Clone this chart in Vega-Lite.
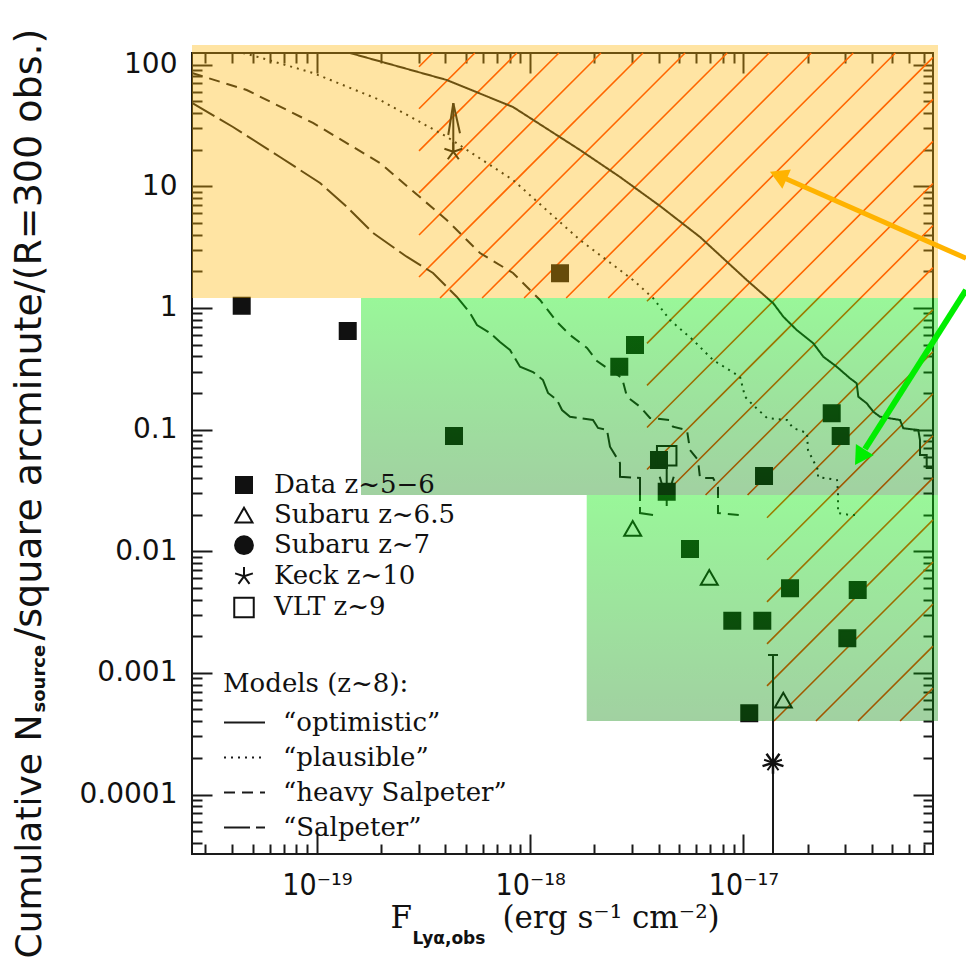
{
"$schema": "https://vega.github.io/schema/vega-lite/v6.json",
"width": 741,
"height": 801,
"autosize": {"type": "none"},
"padding": {"left": 192, "top": 53, "right": 33, "bottom": 111},
"background": "white",
"config": {
  "view": {"stroke": "#1a1a1a", "strokeWidth": 2},
  "axis": {"domain": false, "grid": false, "tickColor": "#1a1a1a", "tickWidth": 2, "labelColor": "#111111", "titleColor": "#111111", "titleFontWeight": "normal", "labelFlush": false, "labelOverlap": false, "labelBound": false}
},
"datasets": {
  "hatch": [
    {"x": 3.010e-19, "y": 96.0, "x2": 3.491e-19, "y2": 124.5},
    {"x": 3.010e-19, "y": 43.32, "x2": 5.498e-19, "y2": 124.5},
    {"x": 3.010e-19, "y": 19.54, "x2": 8.659e-19, "y2": 124.5},
    {"x": 3.010e-19, "y": 8.816, "x2": 1.363e-18, "y2": 124.5},
    {"x": 3.010e-19, "y": 3.977, "x2": 2.147e-18, "y2": 124.5},
    {"x": 3.010e-19, "y": 1.7946, "x2": 3.381e-18, "y2": 124.5},
    {"x": 3.778e-19, "y": 1.2061, "x2": 5.324e-18, "y2": 124.5},
    {"x": 5.950e-19, "y": 1.2061, "x2": 8.384e-18, "y2": 124.5},
    {"x": 9.368e-19, "y": 1.2061, "x2": 1.320e-17, "y2": 124.5},
    {"x": 1.475e-18, "y": 1.2061, "x2": 2.079e-17, "y2": 124.5},
    {"x": 2.323e-18, "y": 1.2061, "x2": 3.273e-17, "y2": 124.5},
    {"x": 3.529e-18, "y": 1.1331, "x2": 5.155e-17, "y2": 124.5},
    {"x": 3.529e-18, "y": 0.5111, "x2": 7.745e-17, "y2": 114.7},
    {"x": 3.529e-18, "y": 0.2306, "x2": 7.745e-17, "y2": 51.74},
    {"x": 3.529e-18, "y": 0.10404, "x2": 7.745e-17, "y2": 23.35},
    {"x": 3.529e-18, "y": 0.04693, "x2": 7.745e-17, "y2": 10.53},
    {"x": 4.221e-18, "y": 0.028966, "x2": 7.745e-17, "y2": 4.753},
    {"x": 6.645e-18, "y": 0.028966, "x2": 7.745e-17, "y2": 2.1445},
    {"x": 1.046e-17, "y": 0.028966, "x2": 7.745e-17, "y2": 0.9673},
    {"x": 1.290e-17, "y": 0.018851, "x2": 7.745e-17, "y2": 0.4364},
    {"x": 1.290e-17, "y": 0.008505, "x2": 7.745e-17, "y2": 0.19693},
    {"x": 1.290e-17, "y": 0.003837, "x2": 7.745e-17, "y2": 0.08884},
    {"x": 1.290e-17, "y": 0.0017313, "x2": 7.745e-17, "y2": 0.04007},
    {"x": 1.290e-17, "y": 7.811e-4, "x2": 7.745e-17, "y2": 0.018083},
    {"x": 1.390e-17, "y": 4.018e-4, "x2": 7.745e-17, "y2": 0.008155},
    {"x": 2.189e-17, "y": 4.018e-4, "x2": 7.745e-17, "y2": 0.003680},
    {"x": 3.447e-17, "y": 4.018e-4, "x2": 7.745e-17, "y2": 0.0016608},
    {"x": 5.429e-17, "y": 4.018e-4, "x2": 7.745e-17, "y2": 7.493e-4}
  ],
  "models": [
    {"model": "“optimistic”", "i": 1, "x": 1.429e-19, "y": 124.5},
    {"model": "“optimistic”", "i": 2, "x": 4.059e-19, "y": 74.7},
    {"model": "“optimistic”", "i": 3, "x": 8.306e-19, "y": 44.81},
    {"model": "“optimistic”", "i": 4, "x": 1.712e-18, "y": 19.86},
    {"model": "“optimistic”", "i": 5, "x": 2.637e-18, "y": 11.91},
    {"model": "“optimistic”", "i": 6, "x": 4.062e-18, "y": 6.881},
    {"model": "“optimistic”", "i": 7, "x": 6.256e-18, "y": 3.826},
    {"model": "“optimistic”", "i": 8, "x": 1.036e-17, "y": 1.696},
    {"model": "“optimistic”", "i": 9, "x": 1.380e-17, "y": 1.0908},
    {"model": "“optimistic”", "i": 10, "x": 1.538e-17, "y": 0.8465},
    {"model": "“optimistic”", "i": 11, "x": 1.778e-17, "y": 0.6578},
    {"model": "“optimistic”", "i": 12, "x": 2.126e-17, "y": 0.5116},
    {"model": "“optimistic”", "i": 13, "x": 2.369e-17, "y": 0.3971},
    {"model": "“optimistic”", "i": 14, "x": 2.737e-17, "y": 0.3285},
    {"model": "“optimistic”", "i": 15, "x": 3.161e-17, "y": 0.2637},
    {"model": "“optimistic”", "i": 16, "x": 3.398e-17, "y": 0.2400},
    {"model": "“optimistic”", "i": 17, "x": 3.457e-17, "y": 0.1862},
    {"model": "“optimistic”", "i": 18, "x": 3.786e-17, "y": 0.1643},
    {"model": "“optimistic”", "i": 19, "x": 4.064e-17, "y": 0.1402},
    {"model": "“optimistic”", "i": 20, "x": 4.369e-17, "y": 0.1275},
    {"model": "“optimistic”", "i": 21, "x": 5.423e-17, "y": 0.1198},
    {"model": "“optimistic”", "i": 22, "x": 5.620e-17, "y": 0.1024},
    {"model": "“optimistic”", "i": 23, "x": 6.607e-17, "y": 0.09914},
    {"model": "“optimistic”", "i": 24, "x": 6.730e-17, "y": 0.08204},
    {"model": "“optimistic”", "i": 25, "x": 6.730e-17, "y": 0.06176},
    {"model": "“optimistic”", "i": 26, "x": 7.235e-17, "y": 0.06176},
    {"model": "“optimistic”", "i": 27, "x": 7.235e-17, "y": 0.04828},
    {"model": "“optimistic”", "i": 28, "x": 7.745e-17, "y": 0.04828},
    {"model": "“plausible”", "i": 1, "x": 4.499e-20, "y": 124.5},
    {"model": "“plausible”", "i": 2, "x": 5.234e-20, "y": 116.1},
    {"model": "“plausible”", "i": 3, "x": 9.581e-20, "y": 85.27},
    {"model": "“plausible”", "i": 4, "x": 1.975e-19, "y": 51.15},
    {"model": "“plausible”", "i": 5, "x": 4.059e-19, "y": 25.54},
    {"model": "“plausible”", "i": 6, "x": 8.306e-19, "y": 11.25},
    {"model": "“plausible”", "i": 7, "x": 1.712e-18, "y": 3.614},
    {"model": "“plausible”", "i": 8, "x": 3.035e-18, "y": 1.696},
    {"model": "“plausible”", "i": 9, "x": 3.767e-18, "y": 1.206},
    {"model": "“plausible”", "i": 10, "x": 4.524e-18, "y": 0.7951},
    {"model": "“plausible”", "i": 11, "x": 5.800e-18, "y": 0.5447},
    {"model": "“plausible”", "i": 12, "x": 7.200e-18, "y": 0.3729},
    {"model": "“plausible”", "i": 13, "x": 9.636e-18, "y": 0.2718},
    {"model": "“plausible”", "i": 14, "x": 1.017e-17, "y": 0.1862},
    {"model": "“plausible”", "i": 15, "x": 1.109e-17, "y": 0.1591},
    {"model": "“plausible”", "i": 16, "x": 1.290e-17, "y": 0.1244},
    {"model": "“plausible”", "i": 17, "x": 1.601e-17, "y": 0.1198},
    {"model": "“plausible”", "i": 18, "x": 1.708e-17, "y": 0.1030},
    {"model": "“plausible”", "i": 19, "x": 1.987e-17, "y": 0.09367},
    {"model": "“plausible”", "i": 20, "x": 2.008e-17, "y": 0.0679},
    {"model": "“plausible”", "i": 21, "x": 2.119e-17, "y": 0.05618},
    {"model": "“plausible”", "i": 22, "x": 2.237e-17, "y": 0.0465},
    {"model": "“plausible”", "i": 23, "x": 2.237e-17, "y": 0.04073},
    {"model": "“plausible”", "i": 24, "x": 2.747e-17, "y": 0.03848},
    {"model": "“plausible”", "i": 25, "x": 2.777e-17, "y": 0.03009},
    {"model": "“plausible”", "i": 26, "x": 2.777e-17, "y": 0.0206},
    {"model": "“plausible”", "i": 27, "x": 3.161e-17, "y": 0.01984},
    {"model": "“plausible”", "i": 28, "x": 3.408e-17, "y": 0.01984},
    {"model": "“heavy Salpeter”", "i": 1, "x": 2.594e-20, "y": 85.27},
    {"model": "“heavy Salpeter”", "i": 2, "x": 4.683e-20, "y": 61.82},
    {"model": "“heavy Salpeter”", "i": 3, "x": 9.581e-20, "y": 33.11},
    {"model": "“heavy Salpeter”", "i": 4, "x": 1.975e-19, "y": 15.53},
    {"model": "“heavy Salpeter”", "i": 5, "x": 4.059e-19, "y": 5.278},
    {"model": "“heavy Salpeter”", "i": 6, "x": 5.815e-19, "y": 2.827},
    {"model": "“heavy Salpeter”", "i": 7, "x": 8.306e-19, "y": 1.936},
    {"model": "“heavy Salpeter”", "i": 8, "x": 1.112e-18, "y": 1.1611},
    {"model": "“heavy Salpeter”", "i": 9, "x": 1.336e-18, "y": 0.7656},
    {"model": "“heavy Salpeter”", "i": 10, "x": 1.537e-18, "y": 0.5987},
    {"model": "“heavy Salpeter”", "i": 11, "x": 1.847e-18, "y": 0.468},
    {"model": "“heavy Salpeter”", "i": 12, "x": 2.057e-18, "y": 0.366},
    {"model": "“heavy Salpeter”", "i": 13, "x": 2.367e-18, "y": 0.3087},
    {"model": "“heavy Salpeter”", "i": 14, "x": 2.695e-18, "y": 0.2652},
    {"model": "“heavy Salpeter”", "i": 15, "x": 2.844e-18, "y": 0.1862},
    {"model": "“heavy Salpeter”", "i": 16, "x": 3.273e-18, "y": 0.154},
    {"model": "“heavy Salpeter”", "i": 17, "x": 3.646e-18, "y": 0.1244},
    {"model": "“heavy Salpeter”", "i": 18, "x": 4.524e-18, "y": 0.1198},
    {"model": "“heavy Salpeter”", "i": 19, "x": 4.673e-18, "y": 0.1055},
    {"model": "“heavy Salpeter”", "i": 20, "x": 5.436e-18, "y": 0.09914},
    {"model": "“heavy Salpeter”", "i": 21, "x": 5.616e-18, "y": 0.0679},
    {"model": "“heavy Salpeter”", "i": 22, "x": 6.123e-18, "y": 0.05618},
    {"model": "“heavy Salpeter”", "i": 23, "x": 6.256e-18, "y": 0.03996},
    {"model": "“heavy Salpeter”", "i": 24, "x": 7.200e-18, "y": 0.03996},
    {"model": "“heavy Salpeter”", "i": 25, "x": 7.598e-18, "y": 0.0337},
    {"model": "“heavy Salpeter”", "i": 26, "x": 7.598e-18, "y": 0.0206},
    {"model": "“heavy Salpeter”", "i": 27, "x": 9.636e-18, "y": 0.01984},
    {"model": "“Salpeter”", "i": 1, "x": 2.594e-20, "y": 48.34},
    {"model": "“Salpeter”", "i": 2, "x": 4.039e-20, "y": 30.69},
    {"model": "“Salpeter”", "i": 3, "x": 6.708e-20, "y": 17.39},
    {"model": "“Salpeter”", "i": 4, "x": 1.034e-19, "y": 10.63},
    {"model": "“Salpeter”", "i": 5, "x": 1.379e-19, "y": 6.79},
    {"model": "“Salpeter”", "i": 6, "x": 1.832e-19, "y": 4.127},
    {"model": "“Salpeter”", "i": 7, "x": 2.636e-19, "y": 2.635},
    {"model": "“Salpeter”", "i": 8, "x": 3.501e-19, "y": 1.936},
    {"model": "“Salpeter”", "i": 9, "x": 4.522e-19, "y": 1.236},
    {"model": "“Salpeter”", "i": 10, "x": 5.221e-19, "y": 0.9079},
    {"model": "“Salpeter”", "i": 11, "x": 5.630e-19, "y": 0.7233},
    {"model": "“Salpeter”", "i": 12, "x": 6.478e-19, "y": 0.6217},
    {"model": "“Salpeter”", "i": 13, "x": 7.218e-19, "y": 0.5243},
    {"model": "“Salpeter”", "i": 14, "x": 8.041e-19, "y": 0.4506},
    {"model": "“Salpeter”", "i": 15, "x": 8.959e-19, "y": 0.3285},
    {"model": "“Salpeter”", "i": 16, "x": 1.031e-18, "y": 0.2972},
    {"model": "“Salpeter”", "i": 17, "x": 1.148e-18, "y": 0.2553},
    {"model": "“Salpeter”", "i": 18, "x": 1.212e-18, "y": 0.1998},
    {"model": "“Salpeter”", "i": 19, "x": 1.336e-18, "y": 0.1749},
    {"model": "“Salpeter”", "i": 20, "x": 1.410e-18, "y": 0.1447},
    {"model": "“Salpeter”", "i": 21, "x": 1.537e-18, "y": 0.1275},
    {"model": "“Salpeter”", "i": 22, "x": 1.970e-18, "y": 0.1198},
    {"model": "“Salpeter”", "i": 23, "x": 2.080e-18, "y": 0.103},
    {"model": "“Salpeter”", "i": 24, "x": 2.292e-18, "y": 0.09914},
    {"model": "“Salpeter”", "i": 25, "x": 2.367e-18, "y": 0.07226},
    {"model": "“Salpeter”", "i": 26, "x": 2.637e-18, "y": 0.05308},
    {"model": "“Salpeter”", "i": 27, "x": 2.637e-18, "y": 0.04095},
    {"model": "“Salpeter”", "i": 28, "x": 3.273e-18, "y": 0.03996},
    {"model": "“Salpeter”", "i": 29, "x": 3.273e-18, "y": 0.0206},
    {"model": "“Salpeter”", "i": 30, "x": 3.767e-18, "y": 0.01984}
  ],
  "limits": [
    {"x": 4.359e-19, "y": 19.23, "x2": 4.359e-19, "y2": 48.07},
    {"x": 4.129e-19, "y": 26.38, "x2": 4.359e-19, "y2": 48.07},
    {"x": 4.686e-19, "y": 27.24, "x2": 4.359e-19, "y2": 48.07},
    {"x": 4.367e-18, "y": 0.06095, "x2": 4.367e-18, "y2": 0.02352},
    {"x": 4.049e-18, "y": 0.04095, "x2": 4.367e-18, "y2": 0.02635},
    {"x": 4.710e-18, "y": 0.04095, "x2": 4.367e-18, "y2": 0.02635},
    {"x": 1.376e-17, "y": 0.001402, "x2": 1.376e-17, "y2": 3.244e-5},
    {"x": 1.3036e-17, "y": 0.001402, "x2": 1.4528e-17, "y2": 0.001402}
  ],
  "points": [
    {"cat": "Data z~5−6", "x": 4.437e-20, "y": 1.042},
    {"cat": "Data z~5−6", "x": 1.394e-19, "y": 0.6455},
    {"cat": "Data z~5−6", "x": 1.380e-18, "y": 1.925},
    {"cat": "Data z~5−6", "x": 4.392e-19, "y": 0.0885},
    {"cat": "Data z~5−6", "x": 3.101e-18, "y": 0.4954},
    {"cat": "Data z~5−6", "x": 2.617e-18, "y": 0.3285},
    {"cat": "Data z~5−6", "x": 4.018e-18, "y": 0.05618},
    {"cat": "Data z~5−6", "x": 4.367e-18, "y": 0.03083},
    {"cat": "Data z~5−6", "x": 1.249e-17, "y": 0.0415},
    {"cat": "Data z~5−6", "x": 2.594e-17, "y": 0.136},
    {"cat": "Data z~5−6", "x": 2.858e-17, "y": 0.0885},
    {"cat": "Data z~5−6", "x": 5.616e-18, "y": 0.01042},
    {"cat": "Data z~5−6", "x": 1.654e-17, "y": 0.004953},
    {"cat": "Data z~5−6", "x": 3.435e-17, "y": 0.004797},
    {"cat": "Data z~5−6", "x": 8.867e-18, "y": 0.002683},
    {"cat": "Data z~5−6", "x": 1.226e-17, "y": 0.002683},
    {"cat": "Data z~5−6", "x": 3.071e-17, "y": 0.001923},
    {"cat": "Data z~5−6", "x": 1.065e-17, "y": 4.649e-4},
    {"cat": "Subaru z~6.5", "x": 3.025e-18, "y": 0.01542},
    {"cat": "Subaru z~6.5", "x": 6.915e-18, "y": 0.006101},
    {"cat": "Subaru z~6.5", "x": 1.538e-17, "y": 5.978e-4},
    {"cat": "Keck z~10", "x": 4.359e-19, "y": 19.23},
    {"cat": "Keck z~10", "x": 1.376e-17, "y": 1.826e-4},
    {"cat": "VLT z~9", "x": 4.367e-18, "y": 0.06095}
  ],
  "zoneA": [
    {"x": 2.594e-20, "x2": 8.175e-17, "y": 1.2061, "y2": 144.9}
  ],
  "zoneB": [
    {"x": 1.609e-19, "x2": 8.175e-17, "y": 0.028966, "y2": 1.2061},
    {"x": 1.841e-18, "x2": 8.175e-17, "y": 4.018e-4, "y2": 0.028966}
  ],
  "arrowA": [{"x": 1.106e-16, "y": 2.557, "x2": 1.583e-17, "y2": 11.535}],
  "headA": [{"x": 1.457e-17, "y": 12.28}],
  "arrowB": [{"x": 1.106e-16, "y": 1.4031, "x2": 3.717e-17, "y2": 0.0692}],
  "headB": [{"x": 3.517e-17, "y": 0.05913}]
},
"layer": [
  {
    "data": {"name": "hatch"},
    "mark": {"type": "rule", "color": "#FF3A00", "strokeWidth": 1.6},
    "encoding": {
      "x": {"field": "x", "type": "quantitative", "scale": {"type": "log", "domain": [2.594e-20, 7.745e-17], "nice": false},
        "axis": {"orient": "bottom", "values": [1e-19, 1e-18, 1e-17], "tickSize": -20,
          "labelExpr": "datum.value < 5e-19 ? '10⁻¹⁹' : (datum.value < 5e-18 ? '10⁻¹⁸' : '10⁻¹⁷')",
          "labelFont": "DejaVu Sans Condensed, Liberation Sans Narrow, DejaVu Sans", "labelFontSize": 30, "labelPadding": 36,
          "title": "F", "titleFont": "DejaVu Serif", "titleFontSize": 31, "titleX": 198, "titleY": 73, "titleAlign": "left", "titleBaseline": "alphabetic", "titleAngle": 0}},
      "y": {"field": "y", "type": "quantitative", "scale": {"type": "log", "domain": [3.244e-5, 124.5], "nice": false},
        "axis": {"orient": "left", "values": [0.0001, 0.001, 0.01, 0.1, 1, 10, 100], "tickSize": -20,
          "labelExpr": "format(datum.value, '~g')", "labelFont": "DejaVu Sans", "labelFontSize": 28, "labelPadding": 35,
          "title": "Cumulative N", "titleFont": "DejaVu Sans", "titleFontSize": 36, "titleAngle": 270, "titleX": -152, "titleY": 905, "titleAlign": "left", "titleBaseline": "alphabetic"}},
      "x2": {"field": "x2"},
      "y2": {"field": "y2"}
    }
  },
  {
    "data": {"name": "models"},
    "mark": {"type": "line", "color": "#1a1a1a", "strokeWidth": 2},
    "encoding": {
      "x": {"field": "x", "type": "quantitative", "scale": {"type": "log", "domain": [2.594e-20, 7.745e-17], "nice": false},
        "axis": {"orient": "bottom", "values": [3e-20, 4e-20, 5e-20, 6e-20, 7e-20, 8e-20, 9e-20, 2e-19, 3e-19, 4e-19, 5e-19, 6e-19, 7e-19, 8e-19, 9e-19, 2e-18, 3e-18, 4e-18, 5e-18, 6e-18, 7e-18, 8e-18, 9e-18, 2e-17, 3e-17, 4e-17, 5e-17, 6e-17, 7e-17],
          "tickSize": -10, "labels": false,
          "title": "(erg s⁻¹ cm⁻²)", "titleFont": "DejaVu Serif", "titleFontSize": 31, "titleX": 310, "titleY": 73, "titleAlign": "left", "titleBaseline": "alphabetic", "titleAngle": 0}},
      "y": {"field": "y", "type": "quantitative", "scale": {"type": "log", "domain": [3.244e-5, 124.5], "nice": false},
        "axis": {"orient": "left", "values": [4e-5, 5e-5, 6e-5, 7e-5, 8e-5, 9e-5, 2e-4, 3e-4, 4e-4, 5e-4, 6e-4, 7e-4, 8e-4, 9e-4, 0.002, 0.003, 0.004, 0.005, 0.006, 0.007, 0.008, 0.009, 0.02, 0.03, 0.04, 0.05, 0.06, 0.07, 0.08, 0.09, 0.2, 0.3, 0.4, 0.5, 0.6, 0.7, 0.8, 0.9, 2, 3, 4, 5, 6, 7, 8, 9, 20, 30, 40, 50, 60, 70, 80, 90],
          "tickSize": -10, "labels": false,
          "title": "/square arcminute/(R=300 obs.)", "titleFont": "DejaVu Sans", "titleFontSize": 38, "titleAngle": 270, "titleX": -152, "titleY": 587, "titleAlign": "left", "titleBaseline": "alphabetic"}},
      "strokeDash": {"field": "model", "type": "nominal",
        "scale": {"domain": ["“optimistic”", "“plausible”", "“heavy Salpeter”", "“Salpeter”"], "range": [[1, 0], [2, 5], [11, 7], [26, 6]]},
        "legend": {"title": "Models (z~8):", "orient": "none", "legendX": 31, "legendY": 618, "padding": 0,
          "titleFont": "DejaVu Serif", "titleFontSize": 26, "titleFontWeight": "normal", "titleColor": "#111111", "titlePadding": 4, "titleLimit": 600,
          "labelFont": "DejaVu Serif", "labelFontSize": 26, "labelColor": "#111111", "labelOffset": 17, "labelLimit": 600, "rowPadding": -16,
          "symbolType": "stroke", "symbolSize": 1681, "symbolStrokeWidth": 2, "symbolStrokeColor": "#1a1a1a"}},
      "order": {"field": "i", "type": "quantitative"}
    }
  },
  {
    "data": {"name": "limits"},
    "mark": {"type": "rule", "color": "#1a1a1a", "strokeWidth": 2},
    "encoding": {
      "x": {"field": "x", "type": "quantitative", "scale": {"type": "log", "domain": [2.594e-20, 7.745e-17], "nice": false},
        "axis": {"orient": "top", "values": [1e-19, 1e-18, 1e-17], "tickSize": -20, "labels": false,
          "title": "Lyα,obs", "titleFont": "DejaVu Sans", "titleFontWeight": "bold", "titleFontSize": 17, "titleX": 220, "titleY": 890, "titleAlign": "left", "titleBaseline": "alphabetic", "titleAngle": 0}},
      "y": {"field": "y", "type": "quantitative", "scale": {"type": "log", "domain": [3.244e-5, 124.5], "nice": false},
        "axis": {"orient": "right", "values": [0.0001, 0.001, 0.01, 0.1, 1, 10, 100], "tickSize": -20, "labels": false,
          "title": "source", "titleFont": "DejaVu Sans", "titleFontWeight": "bold", "titleFontSize": 18, "titleAngle": 270, "titleX": -889, "titleY": 659, "titleAlign": "left", "titleBaseline": "alphabetic"}},
      "x2": {"field": "x2"},
      "y2": {"field": "y2"}
    }
  },
  {
    "data": {"name": "points"},
    "mark": {"type": "point", "filled": true, "opacity": 1, "strokeWidth": 2},
    "encoding": {
      "x": {"field": "x", "type": "quantitative", "scale": {"type": "log", "domain": [2.594e-20, 7.745e-17], "nice": false},
        "axis": {"orient": "top", "values": [3e-20, 4e-20, 5e-20, 6e-20, 7e-20, 8e-20, 9e-20, 2e-19, 3e-19, 4e-19, 5e-19, 6e-19, 7e-19, 8e-19, 9e-19, 2e-18, 3e-18, 4e-18, 5e-18, 6e-18, 7e-18, 8e-18, 9e-18, 2e-17, 3e-17, 4e-17, 5e-17, 6e-17, 7e-17],
          "tickSize": -10, "labels": false, "title": null}},
      "y": {"field": "y", "type": "quantitative", "scale": {"type": "log", "domain": [3.244e-5, 124.5], "nice": false},
        "axis": {"orient": "right", "values": [4e-5, 5e-5, 6e-5, 7e-5, 8e-5, 9e-5, 2e-4, 3e-4, 4e-4, 5e-4, 6e-4, 7e-4, 8e-4, 9e-4, 0.002, 0.003, 0.004, 0.005, 0.006, 0.007, 0.008, 0.009, 0.02, 0.03, 0.04, 0.05, 0.06, 0.07, 0.08, 0.09, 0.2, 0.3, 0.4, 0.5, 0.6, 0.7, 0.8, 0.9, 2, 3, 4, 5, 6, 7, 8, 9, 20, 30, 40, 50, 60, 70, 80, 90],
          "tickSize": -10, "labels": false, "title": null}},
      "shape": {"field": "cat", "type": "nominal",
        "scale": {"domain": ["Data z~5−6", "Subaru z~6.5", "Subaru z~7", "Keck z~10", "VLT z~9"],
          "range": ["square", "triangle-up", "circle", "M0,0L0,-1M0,0L0.951,-0.309M0,0L0.588,0.809M0,0L-0.588,0.809M0,0L-0.951,-0.309", "square"]},
        "legend": {"title": null, "orient": "none", "legendX": 39, "legendY": 419, "padding": 0,
          "labelFont": "DejaVu Serif", "labelFontSize": 26, "labelColor": "#111111", "labelOffset": 17, "labelLimit": 600, "rowPadding": 4.1,
          "symbolStrokeWidth": 2}},
      "fill": {"field": "cat", "type": "nominal",
        "scale": {"domain": ["Data z~5−6", "Subaru z~6.5", "Subaru z~7", "Keck z~10", "VLT z~9"],
          "range": ["#111111", "transparent", "#111111", "transparent", "transparent"]},
        "legend": {"title": null, "orient": "none", "legendX": 39, "legendY": 419, "padding": 0,
          "labelFont": "DejaVu Serif", "labelFontSize": 26, "labelColor": "#111111", "labelOffset": 17, "labelLimit": 600, "rowPadding": 4.1,
          "symbolStrokeWidth": 2}},
      "stroke": {"field": "cat", "type": "nominal",
        "scale": {"domain": ["Data z~5−6", "Subaru z~6.5", "Subaru z~7", "Keck z~10", "VLT z~9"],
          "range": ["#111111", "#111111", "#111111", "#111111", "#111111"]},
        "legend": {"title": null, "orient": "none", "legendX": 39, "legendY": 419, "padding": 0,
          "labelFont": "DejaVu Serif", "labelFontSize": 26, "labelColor": "#111111", "labelOffset": 17, "labelLimit": 600, "rowPadding": 4.1,
          "symbolStrokeWidth": 2}},
      "size": {"field": "cat", "type": "nominal",
        "scale": {"domain": ["Data z~5−6", "Subaru z~6.5", "Subaru z~7", "Keck z~10", "VLT z~9"],
          "range": [256, 380, 420, 400, 240]},
        "legend": {"title": null, "orient": "none", "legendX": 39, "legendY": 419, "padding": 0,
          "labelFont": "DejaVu Serif", "labelFontSize": 26, "labelColor": "#111111", "labelOffset": 17, "labelLimit": 600, "rowPadding": 4.1,
          "symbolStrokeWidth": 2}}
    }
  },
  {
    "data": {"name": "points"},
    "transform": [{"filter": "datum.cat === 'Keck z~10' && datum.y < 0.01"}],
    "mark": {"type": "point", "shape": "M0,0L0,-1M0,0L0.951,-0.309M0,0L0.588,0.809M0,0L-0.588,0.809M0,0L-0.951,-0.309", "filled": false, "opacity": 1, "color": "#111111", "strokeWidth": 2.5, "size": 484, "angle": 36},
    "encoding": {
      "x": {"field": "x", "type": "quantitative", "scale": {"type": "log", "domain": [2.594e-20, 7.745e-17], "nice": false}, "axis": null},
      "y": {"field": "y", "type": "quantitative", "scale": {"type": "log", "domain": [3.244e-5, 124.5], "nice": false}, "axis": null}
    }
  },
  {
    "data": {"name": "zoneA"},
    "mark": {"type": "rect", "color": "#FFB300", "opacity": 0.36},
    "encoding": {
      "x": {"field": "x", "type": "quantitative", "scale": {"type": "log", "domain": [2.594e-20, 7.745e-17], "nice": false}, "axis": null},
      "x2": {"field": "x2"},
      "y": {"field": "y", "type": "quantitative", "scale": {"type": "log", "domain": [3.244e-5, 124.5], "nice": false}, "axis": null},
      "y2": {"field": "y2"}
    }
  },
  {
    "data": {"name": "zoneB"},
    "mark": {"type": "rect", "opacity": 1,
      "color": {"gradient": "linear", "x1": 0, "y1": 0, "x2": 0, "y2": 1,
        "stops": [{"offset": 0, "color": "rgba(0,235,0,0.4)"}, {"offset": 1, "color": "rgba(0,130,0,0.37)"}]}},
    "encoding": {
      "x": {"field": "x", "type": "quantitative", "scale": {"type": "log", "domain": [2.594e-20, 7.745e-17], "nice": false}, "axis": null},
      "x2": {"field": "x2"},
      "y": {"field": "y", "type": "quantitative", "scale": {"type": "log", "domain": [3.244e-5, 124.5], "nice": false}, "axis": null},
      "y2": {"field": "y2"}
    }
  },
  {
    "data": {"name": "arrowA"},
    "mark": {"type": "rule", "color": "#FFB300", "strokeWidth": 5},
    "encoding": {
      "x": {"field": "x", "type": "quantitative", "scale": {"type": "log", "domain": [2.594e-20, 7.745e-17], "nice": false}, "axis": null},
      "x2": {"field": "x2"},
      "y": {"field": "y", "type": "quantitative", "scale": {"type": "log", "domain": [3.244e-5, 124.5], "nice": false}, "axis": null},
      "y2": {"field": "y2"}
    }
  },
  {
    "data": {"name": "headA"},
    "mark": {"type": "point", "shape": "triangle-up", "filled": true, "color": "#FFB300", "opacity": 1, "size": 441, "angle": 293.8},
    "encoding": {
      "x": {"field": "x", "type": "quantitative", "scale": {"type": "log", "domain": [2.594e-20, 7.745e-17], "nice": false}, "axis": null},
      "y": {"field": "y", "type": "quantitative", "scale": {"type": "log", "domain": [3.244e-5, 124.5], "nice": false}, "axis": null}
    }
  },
  {
    "data": {"name": "arrowB"},
    "mark": {"type": "rule", "color": "#00EE00", "strokeWidth": 6},
    "encoding": {
      "x": {"field": "x", "type": "quantitative", "scale": {"type": "log", "domain": [2.594e-20, 7.745e-17], "nice": false}, "axis": null},
      "x2": {"field": "x2"},
      "y": {"field": "y", "type": "quantitative", "scale": {"type": "log", "domain": [3.244e-5, 124.5], "nice": false}, "axis": null},
      "y2": {"field": "y2"}
    }
  },
  {
    "data": {"name": "headB"},
    "mark": {"type": "point", "shape": "triangle-up", "filled": true, "color": "#00EE00", "opacity": 1, "size": 441, "angle": 212.4},
    "encoding": {
      "x": {"field": "x", "type": "quantitative", "scale": {"type": "log", "domain": [2.594e-20, 7.745e-17], "nice": false}, "axis": null},
      "y": {"field": "y", "type": "quantitative", "scale": {"type": "log", "domain": [3.244e-5, 124.5], "nice": false}, "axis": null}
    }
  }
],
"resolve": {"axis": {"x": "independent", "y": "independent"}}
}
